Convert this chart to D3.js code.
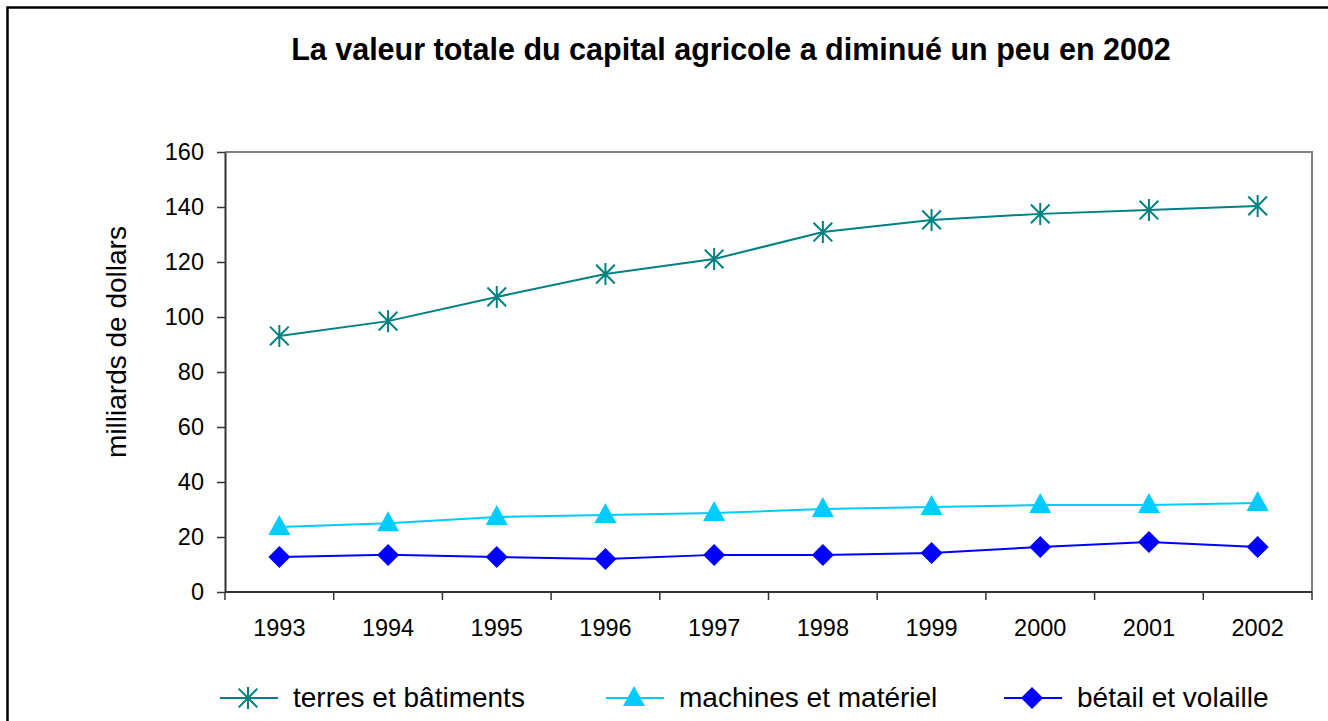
<!DOCTYPE html>
<html><head><meta charset="utf-8">
<script src="https://cdn.jsdelivr.net/npm/d3@7"></script>
<style>
html,body{margin:0;padding:0;background:#fff;}
svg{display:block;font-family:"Liberation Sans",Arial,sans-serif;}
</style></head>
<body>
<svg id="chart" width="1328" height="721"></svg>
<script>
const years = ["1993","1994","1995","1996","1997","1998","1999","2000","2001","2002"];
const terres = [93.1, 98.5, 107.3, 115.6, 121.1, 130.9, 135.3, 137.5, 138.9, 140.4];
const machines = [23.6, 25.0, 27.3, 28.0, 28.7, 30.2, 30.9, 31.6, 31.6, 32.4];
const betail = [12.7, 13.5, 12.7, 12.0, 13.5, 13.5, 14.2, 16.4, 18.2, 16.4];
const yTicks = [0, 20, 40, 60, 80, 100, 120, 140, 160];
const seriesNames = ["terres et bâtiments", "machines et matériel", "bétail et volaille"];
const titleText = "La valeur totale du capital agricole a diminué un peu en 2002";
const yTitle = "milliards de dollars";

const series = [
  {name: seriesNames[0], values: terres, color: "#008080", marker: "star"},
  {name: seriesNames[1], values: machines, color: "#00CCFF", marker: "triangle"},
  {name: seriesNames[2], values: betail, color: "#0000FF", marker: "diamond"}
];

const svg = d3.select("#chart");
const L = 225, R = 1312, T = 152, B = 592;

// outer frame
svg.append("rect").attr("x", 7.5).attr("y", 7.5).attr("width", 1400).attr("height", 800)
  .attr("fill", "none").attr("stroke", "#000").attr("stroke-width", 2.5);

// title
svg.append("text").attr("x", 731).attr("y", 59.5).attr("text-anchor", "middle")
  .attr("font-size", 30.5).attr("font-weight", "bold").attr("fill", "#000").text(titleText);

const x = d3.scaleBand().domain(years).range([L, R]).padding(0);
const y = d3.scaleLinear().domain([0, 160]).range([B, T]);

// plot border (top/right grey)
svg.append("path").attr("d", `M${L},${T}H${R}V${B}`).attr("fill", "none")
  .attr("stroke", "#808080").attr("stroke-width", 2);

// y axis
const gy = svg.append("g").attr("transform", `translate(${L},0)`)
  .call(d3.axisLeft(y).tickValues(yTicks).tickSize(8).tickPadding(13).tickSizeOuter(0));
gy.select(".domain").attr("stroke", "#333").attr("stroke-width", 2);
gy.selectAll(".tick line").attr("stroke", "#333").attr("stroke-width", 1.5);
gy.selectAll(".tick text").attr("font-size", 23.5).attr("fill", "#000")
  .attr("font-family", "Liberation Sans, Arial, sans-serif");

// x axis: labels at band centers, ticks at band boundaries
const gx = svg.append("g").attr("transform", `translate(0,${B})`)
  .call(d3.axisBottom(x).tickSize(0).tickPadding(27).tickSizeOuter(0));
gx.select(".domain").remove();
gx.selectAll(".tick text").attr("font-size", 23.5).attr("fill", "#000")
  .attr("font-family", "Liberation Sans, Arial, sans-serif");
const boundaries = years.map(d => x(d)).concat([x(years[years.length - 1]) + x.bandwidth()]);
svg.append("line").attr("x1", L).attr("x2", R).attr("y1", B).attr("y2", B)
  .attr("stroke", "#333").attr("stroke-width", 2);
svg.selectAll(".xb").data(boundaries).join("line").attr("class", "xb")
  .attr("x1", d => d).attr("x2", d => d).attr("y1", B).attr("y2", B + 8)
  .attr("stroke", "#333").attr("stroke-width", 1.5);

// y title
svg.append("text").attr("transform", `translate(126,342) rotate(-90)`)
  .attr("text-anchor", "middle").attr("font-size", 28).attr("fill", "#000").text(yTitle);

function drawMarker(g, type, color, cx, cy) {
  if (type === "star") {
    const r = 11;
    const p = `M${cx},${cy - r}V${cy + r}M${cx - r * 0.85},${cy - r * 0.85}L${cx + r * 0.85},${cy + r * 0.85}M${cx - r * 0.85},${cy + r * 0.85}L${cx + r * 0.85},${cy - r * 0.85}`;
    g.append("path").attr("d", p).attr("stroke", color).attr("stroke-width", 2).attr("fill", "none");
  } else if (type === "triangle") {
    const h = 20, w = 22;
    g.append("path").attr("d", `M${cx},${cy - h * 0.6}L${cx + w / 2},${cy + h * 0.4}L${cx - w / 2},${cy + h * 0.4}Z`)
      .attr("fill", color);
  } else {
    const r = 11;
    g.append("path").attr("d", `M${cx},${cy - r}L${cx + r},${cy}L${cx},${cy + r}L${cx - r},${cy}Z`)
      .attr("fill", color);
  }
}

const line = d3.line().x((d, i) => x(years[i]) + x.bandwidth() / 2).y(d => y(d));
series.forEach(s => {
  svg.append("path").datum(s.values).attr("d", line).attr("fill", "none")
    .attr("stroke", s.color).attr("stroke-width", 2);
  const g = svg.append("g");
  s.values.forEach((v, i) => drawMarker(g, s.marker, s.color, x(years[i]) + x.bandwidth() / 2, y(v)));
});

// legend
const legendX = [220, 606, 1004];
const legY = 698;
series.forEach((s, i) => {
  const g = svg.append("g");
  const x0 = legendX[i];
  g.append("line").attr("x1", x0).attr("x2", x0 + 58).attr("y1", legY).attr("y2", legY)
    .attr("stroke", s.color).attr("stroke-width", 2);
  drawMarker(g, s.marker, s.color, x0 + 28, legY);
  g.append("text").attr("x", x0 + 73).attr("y", 707).attr("font-size", 28).attr("fill", "#000").text(s.name);
});
</script>
</body></html>
